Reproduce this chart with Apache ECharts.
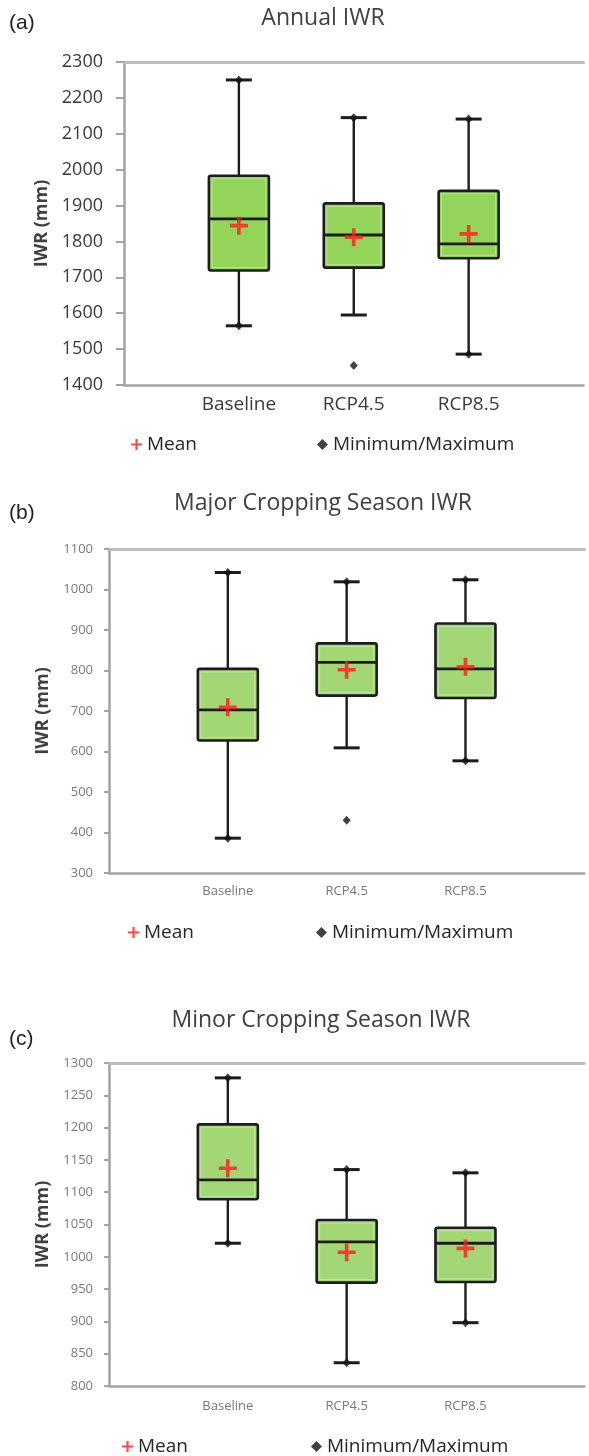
<!DOCTYPE html>
<html><head><meta charset="utf-8">
<script src="https://cdn.jsdelivr.net/npm/echarts@6/dist/echarts.min.js"></script>
<style>html,body{margin:0;padding:0;background:#fff}#chart{width:589px;height:1456px}</style>
</head><body><div id="chart"></div>
<script>
// ---------- DATA ----------
const categories = ['Baseline', 'RCP4.5', 'RCP8.5'];
const legendNames = ['Mean', 'Minimum/Maximum'];
const titles = ['Annual IWR', 'Major Cropping Season IWR', 'Minor Cropping Season IWR'];
const panelLabels = ['(a)', '(b)', '(c)'];
const yAxisTitle = 'IWR (mm)';

// Panel (a) Annual IWR
const axisA = [1400, 2300, 100];          // min, max, interval
const whiskerLowA  = [1565, 1595, 1486];
const q1A          = [1719, 1727, 1753];
const medianA      = [1863, 1818, 1793];
const q3A          = [1983, 1906, 1941];
const whiskerHighA = [2250, 2145, 2141];
const meanA        = [1844, 1812, 1821];
const minA         = [1565, 1454, 1486];
const maxA         = [2250, 2145, 2141];

// Panel (b) Major cropping season IWR
const axisB = [300, 1100, 100];
const whiskerLowB  = [386, 609, 577];
const q1B          = [627, 738, 732];
const medianB      = [703, 820, 804];
const q3B          = [804, 867, 916];
const whiskerHighB = [1042, 1019, 1024];
const meanB        = [709, 802, 809];
const minB         = [386, 430, 577];
const maxB         = [1042, 1019, 1024];

// Panel (c) Minor cropping season IWR
const axisC = [800, 1300, 50];
const whiskerLowC  = [1021, 836, 898];
const q1C          = [1089, 960, 961];
const medianC      = [1119, 1023, 1021];
const q3C          = [1205, 1057, 1045];
const whiskerHighC = [1277, 1135, 1130];
const meanC        = [1137, 1007, 1013];
const minC         = [1021, 836, 898];
const maxC         = [1277, 1135, 1130];

// ---------- LAYOUT / STYLE ----------
const FONT = 'Open Sans';
const panels = [
  { axis: axisA, lo: whiskerLowA, q1: q1A, md: medianA, q3: q3A, hi: whiskerHighA, mean: meanA, min: minA, max: maxA,
    grid: { left: 124, top: 62, width: 470, height: 323 },
    fill: '#94d45a', yFont: 18, yColor: '#3a3a3a', yMargin: 21, tick: 8,
    xFont: 19, xColor: '#3a3a3a', xMargin: 10, nameGap: 69, axisW: 2.5,
    title: [323, 18], plabel: [9, 23], legend: { left: 126, top: 430, gap: 120 } },
  { axis: axisB, lo: whiskerLowB, q1: q1B, md: medianB, q3: q3B, hi: whiskerHighB, mean: meanB, min: minB, max: maxB,
    grid: { left: 109, top: 549, width: 486, height: 324 },
    fill: '#a3d674', yFont: 13, yColor: '#7a7a7a', yMargin: 16, tick: 5,
    xFont: 13, xColor: '#777777', xMargin: 12, nameGap: 54, axisW: 2.5,
    title: [323, 503], plabel: [9, 513], legend: { left: 123, top: 918, gap: 122 } },
  { axis: axisC, lo: whiskerLowC, q1: q1C, md: medianC, q3: q3C, hi: whiskerHighC, mean: meanC, min: minC, max: maxC,
    grid: { left: 109, top: 1063, width: 486, height: 323 },
    fill: '#a3d674', yFont: 13, yColor: '#7a7a7a', yMargin: 16, tick: 5,
    xFont: 13, xColor: '#777777', xMargin: 14, nameGap: 54, axisW: 2.5,
    title: [321, 1020], plabel: [9, 1039], legend: { left: 117, top: 1432, gap: 123 } }
];

const plusPath = 'path://M4,0h2v4h4v2h-4v4h-2v-4h-4v-2h4z';
const axisData = [''].concat(categories, [' ']);

function makeBoxRender(fill) {
  return function (params, api) {
    const c = api.value(0);
    const lo = api.coord([c, api.value(1)]);
    const q1 = api.coord([c, api.value(2)]);
    const md = api.coord([c, api.value(3)]);
    const q3 = api.coord([c, api.value(4)]);
    const hi = api.coord([c, api.value(5)]);
    const x = lo[0];
    const bw = 60, cw = 26;
    const st = { stroke: '#1c1c1c', lineWidth: 2.4 };
    return { type: 'group', children: [
      { type: 'line', shape: { x1: x, y1: hi[1], x2: x, y2: q3[1] }, style: st },
      { type: 'line', shape: { x1: x, y1: q1[1], x2: x, y2: lo[1] }, style: st },
      { type: 'line', shape: { x1: x - cw / 2, y1: hi[1], x2: x + cw / 2, y2: hi[1] }, style: { stroke: '#1c1c1c', lineWidth: 3 } },
      { type: 'line', shape: { x1: x - cw / 2, y1: lo[1], x2: x + cw / 2, y2: lo[1] }, style: { stroke: '#1c1c1c', lineWidth: 3 } },
      { type: 'rect', shape: { x: x - bw / 2, y: q3[1], width: bw, height: q1[1] - q3[1], r: 2 },
        style: { fill: fill, stroke: '#1c1c1c', lineWidth: 2.6 } },
      { type: 'rect', shape: { x: x - bw / 2 + 3, y: q3[1] + 3, width: bw - 6, height: q1[1] - q3[1] - 6 },
        style: { fill: 'none', stroke: 'rgba(255,255,255,0.35)', lineWidth: 1 } },
      { type: 'line', shape: { x1: x - bw / 2, y1: md[1], x2: x + bw / 2, y2: md[1] }, style: { stroke: '#1c1c1c', lineWidth: 2.8 } }
    ] };
  };
}

const option = { animation: false, backgroundColor: '#ffffff',
  grid: [], xAxis: [], yAxis: [], series: [], legend: [], graphic: [] };

panels.forEach(function (p, g) {
  option.grid.push(Object.assign({ containLabel: false }, p.grid));
  const axisLineStyle = { color: '#a3a3a3', width: p.axisW };
  option.xAxis.push({ gridIndex: g, type: 'category', data: axisData, boundaryGap: false,
    axisLine: { lineStyle: axisLineStyle }, axisTick: { show: false }, splitLine: { show: false },
    axisLabel: { interval: 0, margin: p.xMargin, fontSize: p.xFont, color: p.xColor, fontFamily: FONT } });
  option.xAxis.push({ gridIndex: g, type: 'category', data: axisData, boundaryGap: false, position: 'top',
    axisLine: { lineStyle: { color: '#bcbcbc', width: 3 } }, axisTick: { show: false }, axisLabel: { show: false }, splitLine: { show: false } });
  option.yAxis.push({ gridIndex: g, type: 'value', min: p.axis[0], max: p.axis[1], interval: p.axis[2], position: 'left',
    axisLine: { show: true, lineStyle: axisLineStyle },
    axisTick: { show: true, length: p.tick, lineStyle: { color: '#a3a3a3', width: 2 } },
    splitLine: { show: false },
    axisLabel: { margin: p.yMargin, fontSize: p.yFont, color: p.yColor, fontFamily: FONT,
      formatter: function (v) { return String(v); } },
    name: yAxisTitle, nameLocation: 'middle', nameGap: p.nameGap, nameRotate: 90,
    nameTextStyle: { fontSize: 18, fontWeight: 'bold', color: '#404040', fontFamily: FONT } });

  const rows = categories.map(function (c, i) { return [c, p.lo[i], p.q1[i], p.md[i], p.q3[i], p.hi[i]]; });
  option.series.push({ type: 'custom', xAxisIndex: 2 * g, yAxisIndex: g, data: rows, silent: true, z: 2,
    encode: { x: 0, y: [1, 2, 3, 4, 5] }, renderItem: makeBoxRender(p.fill) });
  option.series.push({ type: 'scatter', name: legendNames[1], xAxisIndex: 2 * g, yAxisIndex: g, z: 3, silent: true,
    symbol: 'diamond', symbolSize: [8, 9], itemStyle: { color: '#111111' },
    data: categories.reduce(function (acc, c, i) { acc.push([c, p.min[i]]); acc.push([c, p.max[i]]); return acc; }, []) });
  option.series.push({ type: 'scatter', name: legendNames[0], xAxisIndex: 2 * g, yAxisIndex: g, z: 4, silent: true,
    symbol: plusPath, symbolSize: 18, itemStyle: { color: '#ff1c1c' },
    data: categories.map(function (c, i) { return [c, p.mean[i]]; }) });

  option.legend.push({ data: legendNames, left: p.legend.left, top: p.legend.top, itemGap: p.legend.gap,
    itemWidth: 11, itemHeight: 11, selectedMode: false,
    textStyle: { fontSize: 19, color: '#262626', fontFamily: FONT } });

  option.graphic.push({ type: 'text', x: p.title[0], y: p.title[1],
    style: { text: titles[g], font: '23px "' + FONT + '"', fill: '#404040', textAlign: 'center', textVerticalAlign: 'middle' } });
  option.graphic.push({ type: 'text', x: p.plabel[0], y: p.plabel[1],
    style: { text: panelLabels[g], font: '21px "Liberation Sans"', fill: '#222222', textAlign: 'left', textVerticalAlign: 'middle' } });
});

const chart = echarts.init(document.getElementById('chart'), null, { renderer: 'canvas' });
chart.setOption(option);
</script>
</body></html>
